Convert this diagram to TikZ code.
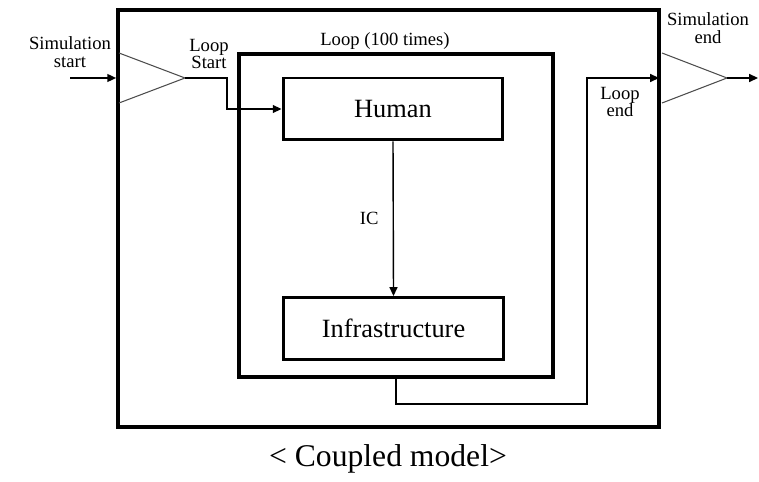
\documentclass[tikz,border=0pt]{standalone}
\usepackage{fontspec}
\setmainfont{Liberation Serif}
\usetikzlibrary{arrows.meta,positioning}

\begin{document}
\begin{tikzpicture}[x=0.02cm, y=-0.02cm,
    lbl/.style={font=\fontsize{10.6}{10}\selectfont, align=center, inner sep=0pt},
    block/.style={draw, line width=1.7pt, minimum width=4.4cm,
                  minimum height=1.24cm, font=\fontsize{15}{17}\selectfont},
    frame/.style={draw, line width=2.2pt, inner sep=0pt},
    wire/.style={line width=0.8pt},
    tri/.style={draw=black!70, line width=0.6pt},
    >={Triangle[length=5pt,width=4.5pt]}]
  \useasboundingbox (0,0) rectangle (759,482);

  % Boxes
  \node[frame, minimum width=10.82cm, minimum height=8.34cm] (outer) at (388.5,218.5) {};
  \node[frame, line width=2pt, minimum width=6.28cm, minimum height=6.46cm] (loop) at (396,215.5) {};
  \node[block] (human) at (393,109) {Human};
  \node[block] (infra) at (393.5,328.5) {Infrastructure};

  % Triangles (start / end)
  \draw[tri] (119,53) -- (185,78) -- (119,103);
  \draw[tri] (662,53) -- (727,78) -- (662,103);
  \coordinate (simin) at (70,78);
  \coordinate (lstart) at (185,78);
  \coordinate (lpend) at (587,404);
  \coordinate (lend) at (659,78);
  \coordinate (simend) at (727,78);
  \coordinate (simout) at (758,78);

  % Connectors
  \draw[wire,->] (simin) -- (outer.west |- simin);
  \draw[wire,->] (lstart) -- ++(42,0) |- (human.west);
  \draw[wire,->] (human.south) -- node[lbl, left=8pt] (ic) {IC} (infra.north);
  \draw[wire,->] (loop.south) |- (lpend) |- (lend);
  \draw[wire,->] (simend) -- (simout);

  % Labels
  \node[lbl] (lsim) at (70,52) {Simulation\\start};
  \node[lbl] (lls) at (209,54) {Loop\\Start};
  \node[lbl] (llp) at (385,41) {Loop (100 times)};
  \node[lbl] (lle) at (620,102) {Loop\\end};
  \node[lbl] (lse) at (708,28) {Simulation\\end};
  \node[font=\fontsize{18}{20}\selectfont] (cap) at (388,459) {< Coupled model>};
\end{tikzpicture}
\end{document}
